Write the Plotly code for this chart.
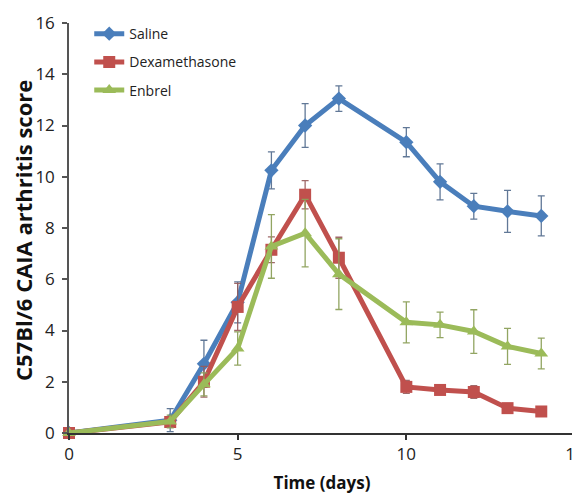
import plotly.graph_objects as go

days = [0, 3, 4, 5, 6, 7, 8, 10, 11, 12, 13, 14]
saline = [0, 0.5, 2.7, 5.1, 10.25, 12.0, 13.05, 11.35, 9.8, 8.85, 8.65, 8.47]
saline_err = [0, 0.45, 0.92, 0.8, 0.72, 0.85, 0.5, 0.57, 0.7, 0.5, 0.82, 0.78]
dexa = [0, 0.43, 2.0, 4.92, 7.15, 9.3, 6.84, 1.8, 1.68, 1.6, 0.97, 0.84]
dexa_err = [0, 0.2, 0.6, 0.92, 0.5, 0.55, 0.8, 0.25, 0.15, 0.25, 0.15, 0.12]
enbrel = [0, 0.45, 1.9, 3.3, 7.28, 7.8, 6.2, 4.32, 4.22, 3.96, 3.38, 3.1]
enbrel_err = [0, 0.25, 0.45, 0.65, 1.24, 1.32, 1.38, 0.8, 0.5, 0.85, 0.7, 0.6]

series = [
    ("Saline", saline, saline_err, "#4A7EBB", "diamond", 11, "rgba(80,105,140,0.9)"),
    ("Dexamethasone", dexa, dexa_err, "#C0504D", "square", 12, "rgba(150,90,90,0.9)"),
    ("Enbrel", enbrel, enbrel_err, "#9BBB59", "triangle-up", 12, "rgba(140,160,90,0.95)"),
]

fig = go.Figure()
for i, (name, vals, errs, color, sym, size, ecol) in enumerate(series):
    fig.add_trace(go.Scatter(
        x=days, y=vals, name=name, mode="lines+markers",
        legendgroup=name,
        line=dict(color=color, width=5),
        marker=dict(symbol=sym, size=size, color=color),
        error_y=dict(type="data", array=errs, visible=True, color=ecol,
                     thickness=1.3, width=3.5),
        cliponaxis=False,
    ))

# page body has an 8px margin, so the figure is sized/offset to compensate
fig.update_layout(
    width=572, height=487,
    margin=dict(l=61, r=5, t=15, b=62, autoexpand=False),
    paper_bgcolor="white", plot_bgcolor="white",
    font=dict(family="Open Sans", color="#222"),
    showlegend=True,
    legend=dict(x=0.04, y=1.012, xanchor="left", yanchor="top",
                font=dict(size=14, color="#222"),
                traceorder="grouped", tracegroupgap=7,
                bgcolor="rgba(0,0,0,0)", itemwidth=30),
    xaxis=dict(range=[0, 15], tickvals=[0, 5, 10, 15], showgrid=False,
               automargin=False, ticklabeloverflow="allow",
               zeroline=False, showline=True, linecolor="#333", linewidth=1.5,
               ticks="outside", ticklen=5, tickcolor="#333", tickwidth=1.5,
               tickfont=dict(size=17, color="#222"),
               title=dict(text="<b>Time (days)</b>", font=dict(size=17, color="#111"),
                          standoff=13)),
    yaxis=dict(range=[0, 16], tickvals=list(range(0, 17, 2)), showgrid=False,
               automargin=False,
               zeroline=False, showline=True, linecolor="#555", linewidth=1.5,
               ticks="outside", ticklen=5, tickcolor="#555", tickwidth=1.5,
               ticklabelstandoff=4,
               tickfont=dict(size=17, color="#222")),
    annotations=[dict(text="<b>C57Bl/6 CAIA arthritis score</b>", textangle=-90,
                      xref="paper", yref="paper", x=-0.09, y=0.494,
                      xanchor="center", yanchor="middle", showarrow=False,
                      font=dict(size=22, color="#111"))],
)

fig.write_html("out.html")
